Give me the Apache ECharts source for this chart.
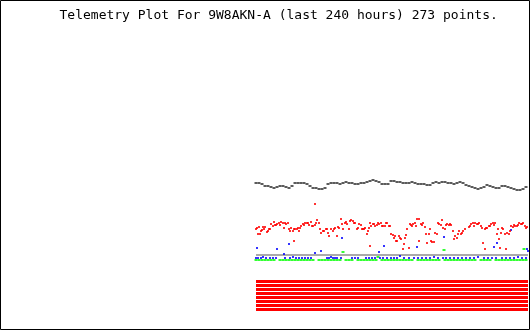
<!DOCTYPE html>
<html><head><meta charset="utf-8">
<script src="https://cdn.jsdelivr.net/npm/echarts@6/dist/echarts.min.js"></script>
<style>html,body{margin:0;padding:0;background:#fff}#c{width:530px;height:330px}</style>
</head><body><div id="c"></div>
<script>
// Sample index along the time axis (0..272, 273 points); values in raw telemetry units.
const titleText = 'Telemetry Plot For 9W8AKN-A (last 240 hours) 273 points.';
const sampleStep = 3;
const ch1Vals = [129,129,128,126,126,125,124,125,126,126,
 125,124,126,129,129,129,129,128,126,124,
 124,123,123,124,128,129,129,129,128,129,
 130,129,129,128,128,129,129,130,131,132,
 131,130,128,128,128,131,131,130,130,129,
 129,129,130,129,128,128,128,127,127,129,
 130,129,130,130,129,129,128,129,130,129,
 127,126,125,124,123,124,125,127,126,125,
 124,124,126,126,125,124,123,122,122,123,
 125];
const ch2Pts = [[0,83],[1,84],[2,78],[3,85],[4,78],[5,81],[6,82],[7,85],[8,83],[9,85],[11,80],[12,81],[13,83],[14,83],[15,88],[17,86],[18,90],[19,87],[20,87],[21,88],[23,89],[24,87],[25,90],[27,89],[28,84],[29,89],[30,88],[32,89],[33,83],[34,81],[35,84],[37,81],[38,71],[38,83],[39,83],[41,83],[42,84],[43,81],[44,84],[45,86],[47,88],[48,87],[49,89],[51,89],[52,89],[53,87],[55,90],[56,86],[57,86],[59,87],[60,89],[61,92],[63,89],[64,83],[65,79],[67,81],[59,108],
 [68,81],[70,83],[71,83],[72,79],[73,76],[75,83],[77,81],[78,83],[79,84],[81,76],[82,85],[83,84],[85,93],[86,88],[87,83],[89,89],[90,90],[91,88],[93,83],[94,91],[95,92],[97,91],[98,89],[99,89],[101,83],[102,84],[103,88],[105,87],[106,83],[107,83],[108,83],[109,84],[111,78],[112,81],[113,84],[114,89],[115,86],[117,88],[118,88],[119,86],[121,87],[122,89],[123,88],[125,89],[126,86],[127,86],[129,86],[130,89],[131,89],[133,86],[134,86],[135,78],[114,66],
 [137,77],[138,74],[139,76],[140,71],[141,71],[143,76],[144,74],[145,73],[147,63],[148,68],[149,74],[150,77],[151,83],[153,64],[154,88],[155,87],[156,86],[157,88],[159,89],[160,86],[161,93],[163,93],[163,71],[165,88],[166,87],[167,89],[169,85],[170,78],[171,69],[173,78],[174,83],[175,71],[176,70],[178,70],[179,79],[181,78],[182,89],[183,88],[185,87],[186,92],[187,84],[189,83],[190,87],[191,88],[193,87],[194,88],[195,87],[197,81],[198,73],[199,76],[201,74],[202,78],[203,81],
 [205,78],[206,79],[207,81],[209,83],[213,85],[214,86],[215,88],[217,89],[218,86],[219,89],[221,88],[222,88],[223,89],[225,86],[226,84],[227,69],[229,83],[229,63],[230,84],[231,84],[233,86],[234,86],[235,88],[237,89],[238,87],[239,89],[241,78],[242,83],[243,73],[244,64],[245,79],[246,84],[247,83],[249,78],[250,63],[251,79],[253,78],[254,81],[255,86],[257,85],[258,87],[259,86],[261,86],[262,87],[263,89],[265,88],[266,88],[267,89],[269,86],[270,84],[271,85]];
const ch3Pts = [[0,54],[2,54],[5,54],[7,55],[10,54],[14,54],[17,54],[20,54],[29,54],[34,54],[37,55],[40,54],[43,54],[46,54],[49,54],[52,54],[55,54],[71,54],[73,54],[75,55],[77,54],[79,54],[81,54],[85,54],[96,54],[99,54],[102,54],[110,54],[113,54],[116,54],[119,54],[124,54],[127,54],[131,54],[135,54],[138,54],[141,54],[144,56],[148,54],[153,54],[158,54],[162,54],[166,54],[170,54],[174,54],[178,55],[182,54],[187,54],[190,54],[194,54],[198,54],[202,54],[206,54],[210,54],[214,54],[218,54],[222,55],[228,54],[232,54],[236,54],[240,54],[246,54],[250,54],[254,54],[258,54],[262,55],[266,54],[270,54],
 [1,64],[21,63],[28,58],[33,68],[59,59],[65,61],[86,74],[123,60],[128,66],[161,65],[188,75],[238,65],[241,69],[255,82],[271,63],[272,61]];
const ch4Vals = [52,52,52,52,52,52,52,null,52,52,
 52,52,52,52,52,52,52,52,52,52,
 null,52,52,52,52,52,52,52,52,null,
 52,52,52,null,52,52,52,52,52,52,
 52,null,52,52,52,52,52,52,52,52,
 52,52,52,null,52,52,52,52,52,52,
 52,52,null,52,52,52,52,52,52,52,
 52,52,52,52,null,52,52,52,52,null,
 52,52,52,52,52,52,52,52,52,52,
 52];
const ch4Spikes = [[87,60],[122,55],[188,62],[268,63]];
const ch5Val = 57;
const bits = [1,1,1,1,1,1,1,1];

const lastSample = 272;
const bitBase = 30.5, bitGap = 4;

const series = [];
series.push({type:'line', data:[[0,ch5Val],[lastSample,ch5Val]], symbol:'none', silent:true,
  lineStyle:{color:'#aaaaaa', width:2}, z:1});
bits.forEach((b,k)=>{
  if(!b) return;
  const lvl = bitBase - k*bitGap;
  series.push({type:'line', data:[[0,lvl],[lastSample,lvl]], symbol:'none', silent:true,
    lineStyle:{color:'#ff0000', width:3, cap:'butt'}, z:1});
});
series.push({type:'scatter', symbol:'rect', symbolSize:[3,2], itemStyle:{color:'#00ff00'}, z:2,
  data: ch4Vals.map((v,i)=> v==null ? null : [i*sampleStep, v]).filter(d=>d).concat(ch4Spikes)});
series.push({type:'scatter', symbol:'rect', symbolSize:[2,2], itemStyle:{color:'#0000ff'}, z:3, data: ch3Pts});
series.push({type:'scatter', symbol:'rect', symbolSize:[2,2], itemStyle:{color:'#ff0000'}, z:4, data: ch2Pts});
series.push({type:'scatter', symbol:'rect', symbolSize:[3,2], itemStyle:{color:'#333333'}, z:5,
  data: ch1Vals.map((v,i)=>[i*sampleStep, v])});

const chart = echarts.init(document.getElementById('c'), null, {renderer:'canvas'});
chart.setOption({
  animation:false,
  backgroundColor:'#ffffff',
  title:{text:titleText, left:59.5, top:9, padding:0,
    textStyle:{fontFamily:'DejaVu Sans Mono', fontSize:13, fontWeight:'normal', color:'#000'}},
  grid:{left:256, right:2, top:0, bottom:18, containLabel:false},
  xAxis:{type:'value', min:0, max:lastSample, show:false},
  yAxis:{type:'value', min:0, max:312, show:false},
  graphic:[{type:'rect', shape:{x:0.5,y:0.5,width:529,height:329}, style:{fill:null, stroke:'#000', lineWidth:1}, silent:true, z:100}],
  series: series
});
</script></body></html>
